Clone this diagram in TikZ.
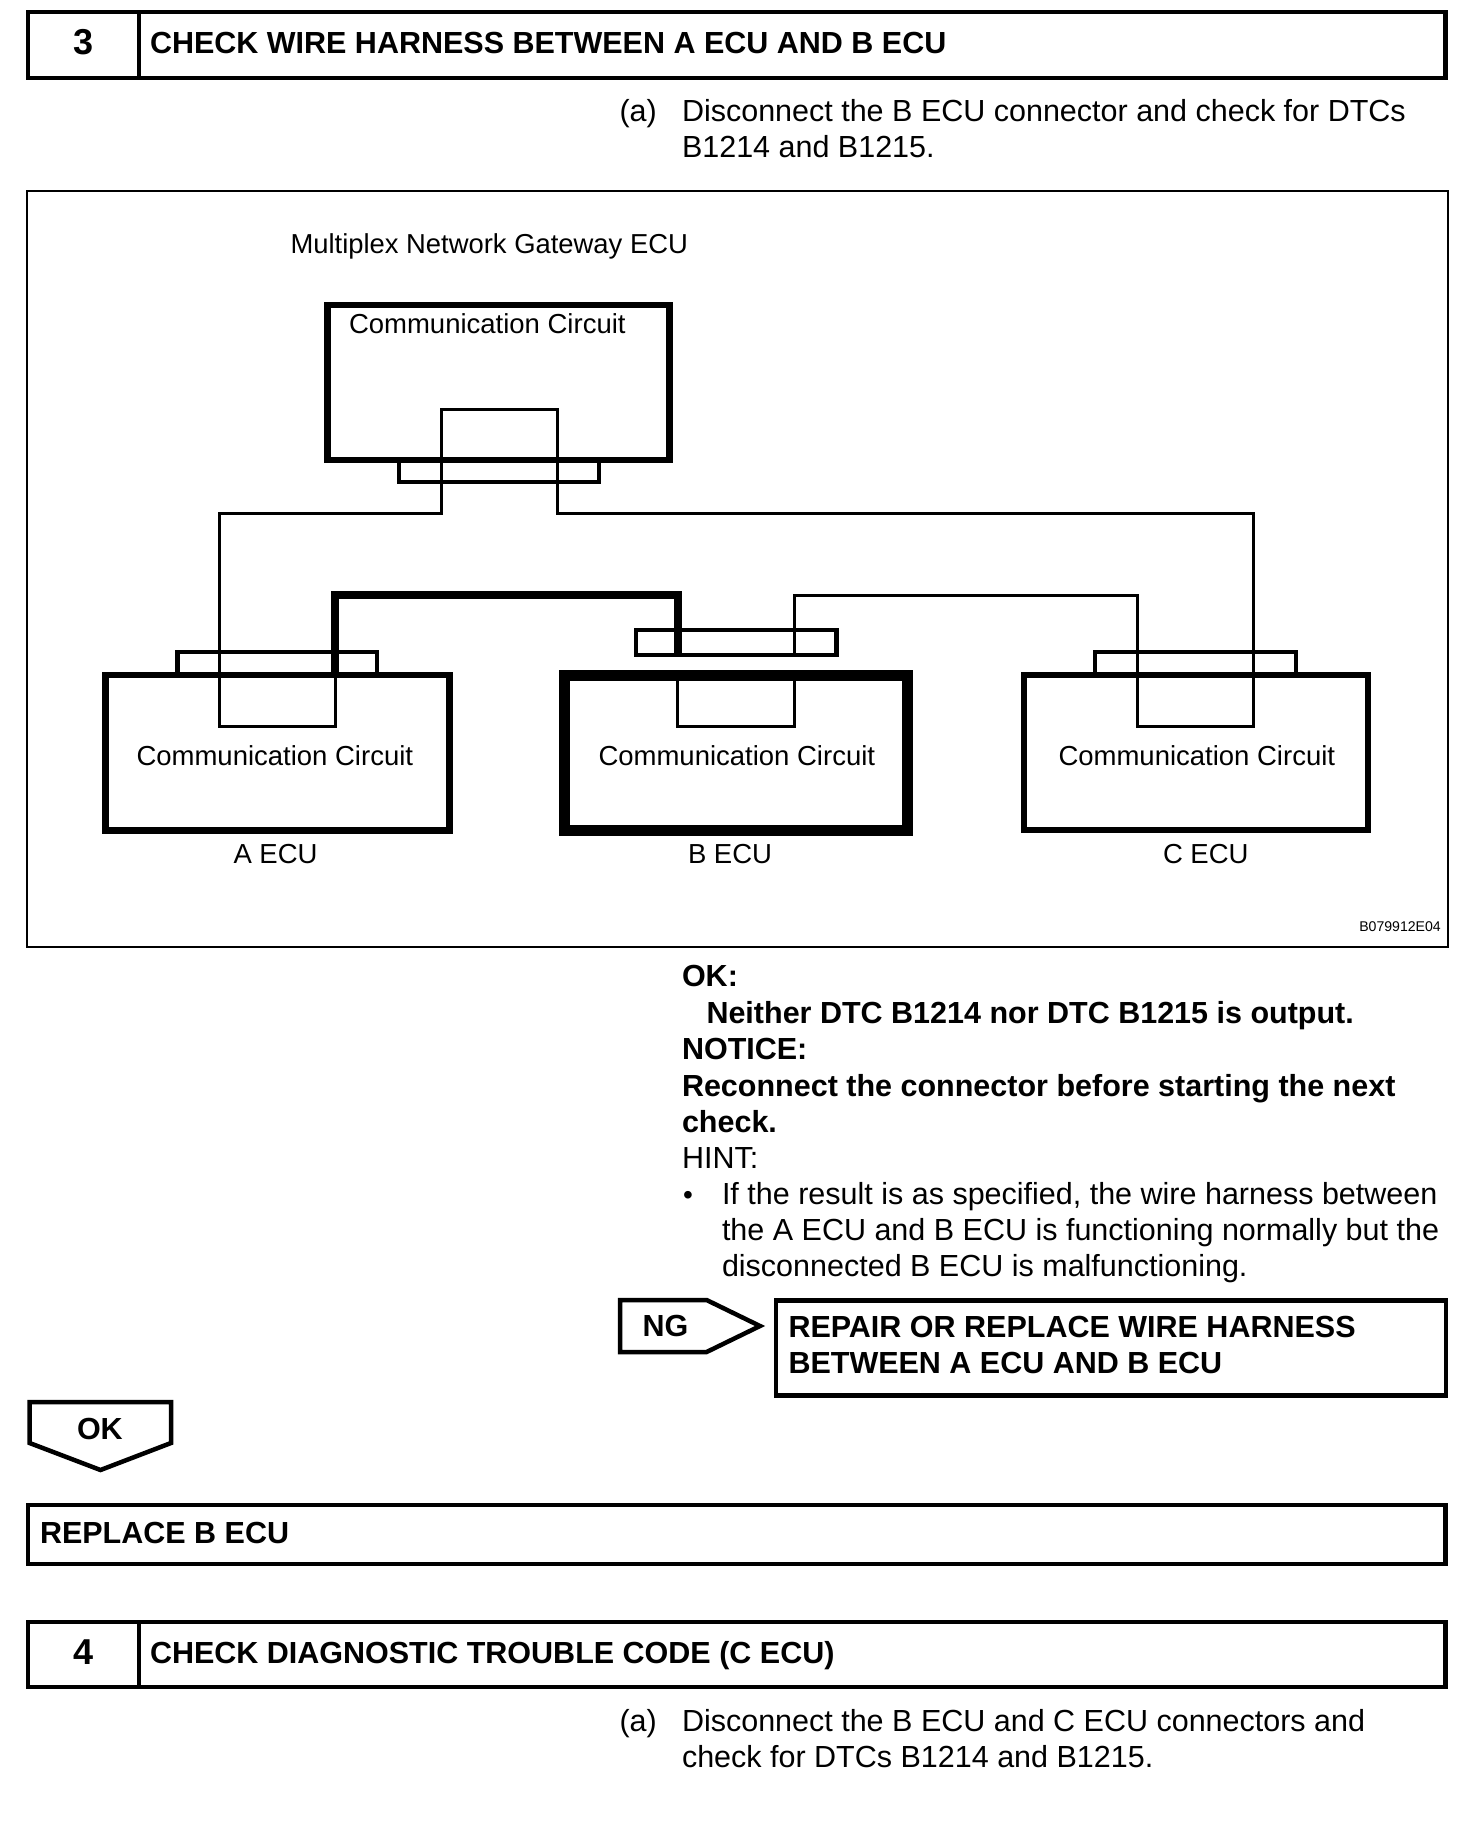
\documentclass[tikz,border=0pt]{standalone}
\usepackage{fontspec}
\setmainfont{Liberation Sans}
\newcommand{\bodyfont}{\fontsize{30.5}{36}\selectfont}
\newcommand{\diagfont}{\fontsize{27.5}{32}\selectfont}
\newcommand{\headfont}{\fontsize{30.5}{36}\selectfont\bfseries}
\tikzset{
  x=1pt,y=-1pt,
  body/.style={anchor=base west,inner sep=0pt,outer sep=0pt,font=\bodyfont},
  bold/.style={anchor=base west,inner sep=0pt,outer sep=0pt,font=\headfont},
  diag/.style={anchor=base west,inner sep=0pt,outer sep=0pt,font=\diagfont},
  num/.style={anchor=center,inner sep=0pt,outer sep=0pt,font=\fontsize{36}{36}\selectfont\bfseries},
  box/.style={draw=black,rectangle,inner sep=0pt,line width=4.5pt},
  ecu/.style={draw=black,rectangle,inner sep=0pt,line width=6.5pt},
  conn/.style={draw=black,rectangle,inner sep=0pt,line width=4.5pt},
  thin wire/.style={draw=black,line width=3pt,line join=miter},
  thick wire/.style={draw=black,line width=8pt,line join=miter},
  arrowbox/.style={draw=black,line width=4.5pt,line join=miter},
}
\begin{document}
\begin{tikzpicture}
\useasboundingbox (0,0) rectangle (1472,1824);
\fill[white] (0,0) rectangle (1472,1824);
% step 3 header
\node[box,minimum width=1417.5pt,minimum height=66pt] (h3) at (736.75,45) {};
\draw[line width=4.5pt] (139,12) -- (139,78);
\node[num] (n3) at (84,42) {3};
\node[bold] (t3) at (150,53) {CHECK WIRE HARNESS BETWEEN A ECU AND B ECU};
\node[body] (a1) at (619.5,121) {(a)};
\node[body] (a1a) at (682,121) {Disconnect the B ECU connector and check for DTCs};
\node[body] (a1b) at (682,157) {B1214 and B1215.};
% figure frame
\node[draw=black,line width=2pt,inner sep=0pt,minimum width=1421pt,minimum height=756pt] (frame) at (737.5,569) {};
\node[anchor=base west,inner sep=0pt,outer sep=0pt,font=\fontsize{27.4}{32}\selectfont] (mn) at (290.5,253) {Multiplex Network Gateway ECU};
% connectors first, behind wires
\node[conn,minimum width=200pt,minimum height=22pt] (gwc) at (499,471) {};
\node[ecu,minimum width=342pt,minimum height=155pt] (gw) at (498.5,382.7) {};
\node[conn,minimum width=199.5pt,minimum height=24pt] (ac) at (277,664) {};
\node[ecu,minimum width=344pt,minimum height=155.4pt] (aecu) at (277.7,752.7) {};
\node[conn,minimum width=200.5pt,minimum height=24.7pt] (bc) at (736.2,642.5) {};
\node[draw=black,rectangle,inner sep=0pt,line width=10.5pt,minimum width=343.4pt,minimum height=155pt] (becu) at (736,752.8) {};
\node[conn,minimum width=201pt,minimum height=24pt] (cc) at (1195.5,664) {};
\node[ecu,minimum width=344pt,minimum height=155pt] (cecu) at (1196,752.5) {};
\node[diag] (t1) at (349,333.5) {Communication Circuit};
\node[diag] (t2) at (136.5,765.5) {Communication Circuit};
\node[diag] (t3b) at (598.5,765.5) {Communication Circuit};
\node[diag] (t4) at (1058.5,765.5) {Communication Circuit};
\node[diag] (l1) at (233.5,863.5) {A ECU};
\node[diag] (l2) at (688,863.5) {B ECU};
\node[diag] (l3) at (1163,863.5) {C ECU};
\node[anchor=base east,inner sep=0pt,font=\fontsize{14.1}{14}\selectfont] (code) at (1441,931) {B079912E04};
% wires
\coordinate (w1) at (441,409.3);
\coordinate (w2) at (557,409.3);
\coordinate (w3) at (219.4,513.3);
\coordinate (w4) at (335.5,726);
\coordinate (w5) at (1253.5,513.3);
\coordinate (w6) at (1137,595.3);
\coordinate (w7) at (794,726);
\coordinate (w8) at (677.5,726);
\coordinate (w9) at (334.8,595);
\coordinate (w10) at (678,654);
\draw[thin wire] (w4 |- aecu.north) -- (w4) -- (w3 |- w4) -- (w3) -- (w1 |- w3) -- (w1) -- (w2) -- (w2 |- w3) -- (w5) -- (w5 |- w4) -- (w6 |- w4) -- (w6) -- (w7 |- w6) -- (w7 |- bc.south);
\draw[thin wire] (w7 |- becu.north) -- (w7) -- (w8) -- (w8 |- becu.north);
\draw[thick wire] (w9 |- aecu.north) -- (w9) -- (w10 |- w9) -- (w10);
% results
\node[bold] (r1) at (682,986.5) {OK:};
\node[bold] (r2) at (706.5,1023) {Neither DTC B1214 nor DTC B1215 is output.};
\node[bold] (r3) at (682,1059) {NOTICE:};
\node[bold] (r4) at (682,1096) {Reconnect the connector before starting the next};
\node[bold] (r5) at (682,1132) {check.};
\node[body] (r6) at (682,1168) {HINT:};
\node[anchor=base west,inner sep=0pt,outer sep=0pt,font=\fontsize{28}{36}\selectfont] (r7) at (683,1204) {•};
\node[body] (r8) at (722,1204) {If the result is as specified, the wire harness between};
\node[body] (r9) at (722,1240) {the A ECU and B ECU is functioning normally but the};
\node[body] (r10) at (722,1276) {disconnected B ECU is malfunctioning.};
% NG
\draw[arrowbox] (620,1300) coordinate (ng1) -- (706.6,1300) -- (760,1326) coordinate (ngtip) -- (706.6,1352) -- (620,1352) -- cycle;
\node[bold] (ngt) at (642.5,1336) {NG};
\node[box,minimum width=670pt,minimum height=95pt] (rep) at (1111,1348) {};
\node[bold] (rep1) at (788.5,1337) {REPAIR OR REPLACE WIRE HARNESS};
\node[bold] (rep2) at (788.5,1373) {BETWEEN A ECU AND B ECU};
% OK
\draw[arrowbox] (29.6,1402) -- (171,1402) -- (171,1443) -- (100.5,1470) -- (29.6,1443) -- cycle;
\node[bold] (okt) at (77,1439) {OK};
\node[box,minimum width=1417.5pt,minimum height=59pt] (repl) at (736.75,1534.5) {};
\node[bold] (replt) at (40,1543) {REPLACE B ECU};
% step 4
\node[box,minimum width=1417.5pt,minimum height=65pt] (h4) at (736.75,1654.5) {};
\draw[line width=4.5pt] (139,1622) -- (139,1687);
\node[num] (n4) at (84,1652) {4};
\node[bold] (t4h) at (150,1663) {CHECK DIAGNOSTIC TROUBLE CODE (C ECU)};
\node[body] (b1) at (619.5,1731) {(a)};
\node[body] (b1a) at (682,1731) {Disconnect the B ECU and C ECU connectors and};
\node[body] (b1b) at (682,1767) {check for DTCs B1214 and B1215.};
\end{tikzpicture}
\end{document}
